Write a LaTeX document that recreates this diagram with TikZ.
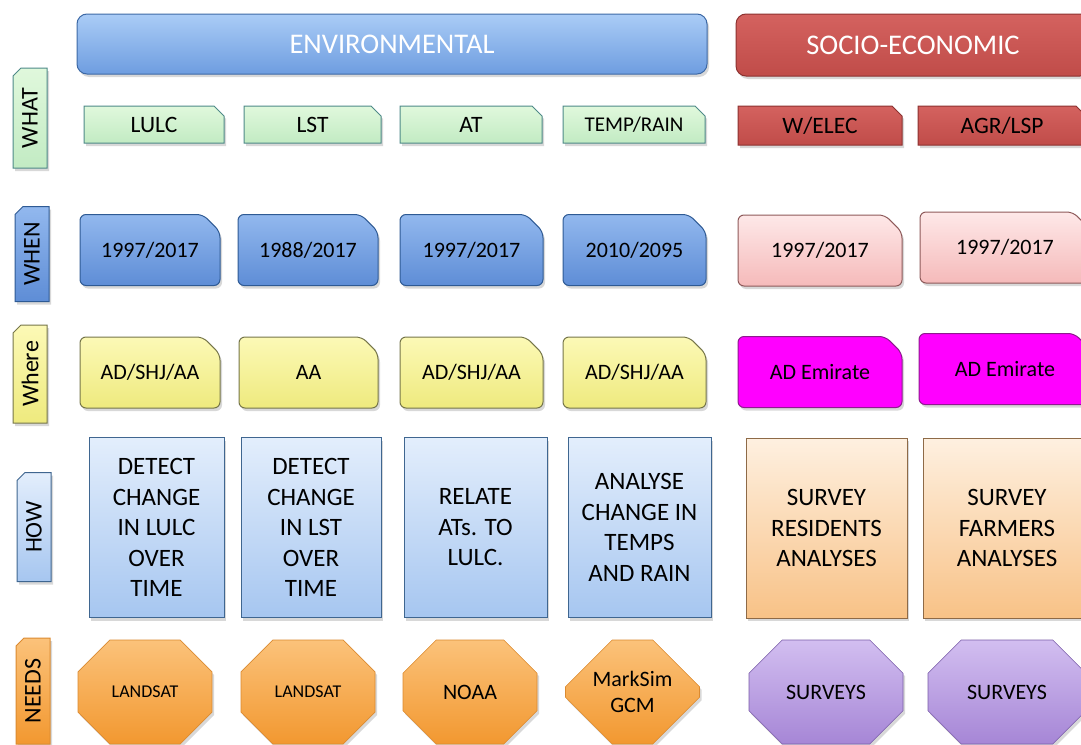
\documentclass[tikz,border=0pt]{standalone}
\usepackage{fontspec}
\setmainfont{Carlito}
\usepackage{tikz}
\usetikzlibrary{positioning, shapes.misc, shadows}

% palette
\definecolor{envtop}{HTML}{AACCF6}
\definecolor{envbot}{HTML}{6E9DE0}
\definecolor{envline}{HTML}{3D69A6}
\definecolor{soctop}{HTML}{D4625F}
\definecolor{socbot}{HTML}{C04C49}
\definecolor{socline}{HTML}{8C3230}
\definecolor{greentop}{HTML}{E0F8DC}
\definecolor{greenbot}{HTML}{C2EBC3}
\definecolor{greenline}{HTML}{4E8A88}
\definecolor{whentop}{HTML}{92B8EE}
\definecolor{whenbot}{HTML}{5E8DD6}
\definecolor{whenline}{HTML}{2E5A94}
\definecolor{pinktop}{HTML}{FEE8E8}
\definecolor{pinkbot}{HTML}{F5BABA}
\definecolor{pinkline}{HTML}{8E5A5A}
\definecolor{yellowtop}{HTML}{FCF9B6}
\definecolor{yellowbot}{HTML}{EEEA7E}
\definecolor{yellowline}{HTML}{76764A}
\definecolor{magfill}{HTML}{FF00FF}
\definecolor{magline}{HTML}{8E1A8E}
\definecolor{howtop}{HTML}{E3EEFC}
\definecolor{howbot}{HTML}{A6C6F0}
\definecolor{howline}{HTML}{3F6690}
\definecolor{peachtop}{HTML}{FEF0E0}
\definecolor{peachbot}{HTML}{F8C287}
\definecolor{peachline}{HTML}{8E6A47}
\definecolor{orangetop}{HTML}{FBC27A}
\definecolor{orangebot}{HTML}{F29830}
\definecolor{orangeline}{HTML}{DB8A30}
\definecolor{purpletop}{HTML}{D2BEF0}
\definecolor{purplebot}{HTML}{A686D6}
\definecolor{purpleline}{HTML}{7A5DA8}

\begin{document}
\begin{tikzpicture}[
  x=1pt, y=-1pt,
  every node/.style={align=center, text=black, inner sep=0pt},
  softshadow/.style={drop shadow={opacity=.3, shadow xshift=2pt, shadow yshift=-3pt}},
  envfill/.style={top color=envtop, bottom color=envbot, draw=envline},
  socfill/.style={top color=soctop, bottom color=socbot, draw=socline},
  greenfill/.style={top color=greentop, bottom color=greenbot, draw=greenline},
  redfill/.style={top color=soctop, bottom color=socbot, draw=socline},
  bluefill/.style={top color=whentop, bottom color=whenbot, draw=whenline},
  pinkfill/.style={top color=pinktop, bottom color=pinkbot, draw=pinkline},
  yellowfill/.style={top color=yellowtop, bottom color=yellowbot, draw=yellowline},
  magentafill/.style={fill=magfill, draw=magline},
  howfill/.style={top color=howtop, bottom color=howbot, draw=howline},
  peachfill/.style={top color=peachtop, bottom color=peachbot, draw=peachline},
  orangefill/.style={top color=orangetop, bottom color=orangebot, draw=orangeline},
  purplefill/.style={top color=purpletop, bottom color=purplebot, draw=purpleline},
  header/.style={rectangle, rounded corners=10pt, line width=1pt, softshadow,
    text=white, font=\fontsize{28.5}{32}\selectfont},
  rowlabel/.style={chamfered rectangle, chamfered rectangle corners=north east,
    chamfered rectangle sep=4pt, rotate=90, line width=1pt, softshadow,
    minimum height=34pt, font=\fontsize{24}{28}\selectfont},
  whatbox/.style={chamfered rectangle, chamfered rectangle corners=north east,
    chamfered rectangle sep=5pt, line width=1pt, softshadow,
    minimum height=37pt, font=\fontsize{23.5}{26}\selectfont},
  whenbox/.style={chamfered rectangle, chamfered rectangle corners=north east,
    chamfered rectangle sep=9pt, rounded corners=6pt, line width=1pt, softshadow,
    minimum height=71pt, font=\fontsize{22}{26}\selectfont},
  howbox/.style={rectangle, line width=1pt, softshadow,
    minimum height=180pt, font=\fontsize{25}{30.5}\selectfont},
  needbox/.style={chamfered rectangle, chamfered rectangle xsep=30pt,
    chamfered rectangle ysep=26pt, line width=.6pt, softshadow,
    minimum height=104pt, font=\fontsize{22}{26}\selectfont}
]
\fill[white] (0,0) rectangle (1081,744);
\useasboundingbox (0,0) rectangle (1081,744);

% Headers
\node[header, envfill, minimum width=630pt, minimum height=60pt] (env) at (392,44) {ENVIRONMENTAL};
\node[header, socfill, minimum width=354pt, minimum height=62pt] (socio) at (913,45) {SOCIO-ECONOMIC};

% Row labels on the left
\node[rowlabel, greenfill, minimum width=100pt] (what) at (30,118) {WHAT};
\node[rowlabel, bluefill, minimum width=95pt] (when) at (32,254) {WHEN};
\node[rowlabel, yellowfill, minimum width=98pt] (where) at (30,374) {Where};
\node[rowlabel, howfill, minimum width=109pt] (how) at (34,527) {HOW};
\node[rowlabel, orangefill, minimum width=106pt] (needs) at (33,691) {NEEDS};

% WHAT
\node[whatbox, greenfill, minimum width=140pt] (what-lulc) at (154,124.5) {LULC};
\node[whatbox, greenfill, minimum width=137pt] (what-lst) at (312.5,124.5) {LST};
\node[whatbox, greenfill, minimum width=142pt] (what-at) at (471,124.5) {AT};
\node[whatbox, greenfill, minimum width=142pt, font=\fontsize{21}{24}\selectfont] (what-temp) at (634,124.5) {TEMP/RAIN};
\node[whatbox, redfill, minimum width=164pt, minimum height=39pt] (what-welec) at (820,125.5) {W/ELEC};
\node[whatbox, redfill, minimum width=168pt, minimum height=39pt] (what-agr) at (1002,125.5) {AGR/LSP};

% WHEN
\node[whenbox, bluefill, minimum width=140pt] (when-lulc) at (150,250) {1997/2017};
\node[whenbox, bluefill, minimum width=140pt] (when-lst) at (308,250) {1988/2017};
\node[whenbox, bluefill, minimum width=143pt] (when-at) at (471.5,250) {1997/2017};
\node[whenbox, bluefill, minimum width=143pt] (when-temp) at (634.5,250) {2010/2095};
\node[whenbox, pinkfill, minimum width=164pt] (when-welec) at (820,250.5) {1997/2017};
\node[whenbox, pinkfill, minimum width=170pt] (when-agr) at (1005,247.5) {1997/2017};

% WHERE
\node[whenbox, yellowfill, minimum width=140pt] (where-lulc) at (150,372.5) {AD/SHJ/AA};
\node[whenbox, yellowfill, minimum width=139pt] (where-lst) at (308.5,372.5) {AA};
\node[whenbox, yellowfill, minimum width=143pt] (where-at) at (471.5,372.5) {AD/SHJ/AA};
\node[whenbox, yellowfill, minimum width=143pt] (where-temp) at (634.5,372.5) {AD/SHJ/AA};
\node[whenbox, magentafill, minimum width=164pt] (where-welec) at (820,372) {AD Emirate};
\node[whenbox, magentafill, minimum width=172pt] (where-agr) at (1005,369) {AD Emirate};

% HOW
\node[howbox, howfill, minimum width=135pt] (how-lulc) at (156.5,527.5) {DETECT\\CHANGE\\IN LULC\\OVER\\TIME};
\node[howbox, howfill, minimum width=140pt] (how-lst) at (311,527.5) {DETECT\\CHANGE\\IN LST\\OVER\\TIME};
\node[howbox, howfill, minimum width=143pt] (how-at) at (475.5,527.5) {RELATE\\ATs. TO\\LULC.};
\node[howbox, howfill, minimum width=143pt] (how-temp) at (639.5,527.5) {ANALYSE\\CHANGE IN\\TEMPS\\AND RAIN};
\node[howbox, peachfill, minimum width=161pt] (how-welec) at (826.5,528) {SURVEY\\RESIDENTS\\ANALYSES};
\node[howbox, peachfill, minimum width=168pt] (how-agr) at (1007,528) {SURVEY\\FARMERS\\ANALYSES};

% NEEDS
\node[needbox, orangefill, minimum width=134pt, font=\fontsize{18}{22}\selectfont] (need-lulc) at (145,692) {LANDSAT};
\node[needbox, orangefill, minimum width=134pt, font=\fontsize{18}{22}\selectfont] (need-lst) at (308,692) {LANDSAT};
\node[needbox, orangefill, minimum width=134pt] (need-at) at (470,692) {NOAA};
\node[needbox, orangefill, minimum width=134pt] (need-temp) at (632.5,692) {MarkSim\\GCM};
\node[needbox, purplefill, minimum width=154pt] (need-welec) at (826,692) {SURVEYS};
\node[needbox, purplefill, minimum width=158pt] (need-agr) at (1007,692) {SURVEYS};

\end{tikzpicture}
\end{document}
